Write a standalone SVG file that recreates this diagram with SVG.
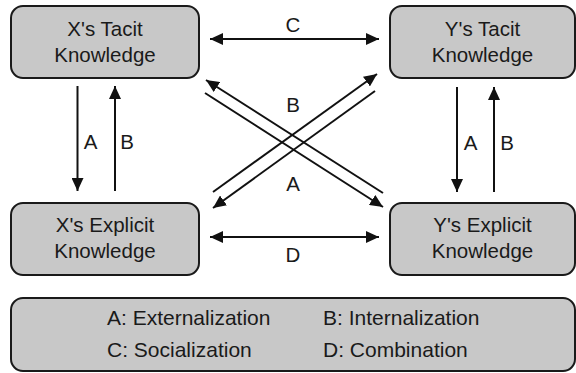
<svg xmlns="http://www.w3.org/2000/svg" width="576" height="373" viewBox="0 0 576 373">
<defs>
<marker id="ah" markerUnits="userSpaceOnUse" markerWidth="14" markerHeight="12" refX="13" refY="6" orient="auto-start-reverse">
<path d="M0,0 L13,6 L0,12 z" fill="#111"/>
</marker>
<style>
.box{fill:#c8c8c8;stroke:#1a1a1a;stroke-width:2}
.t{font-family:"Liberation Sans",Arial,sans-serif;font-size:20.5px;fill:#1a1a1a;text-anchor:middle}
.lg{font-family:"Liberation Sans",Arial,sans-serif;font-size:21px;fill:#1a1a1a}
.c{stroke:#111;stroke-width:2;fill:none}
.one{marker-end:url(#ah)}
.two{marker-start:url(#ah);marker-end:url(#ah)}
</style>
</defs>
<rect width="576" height="373" fill="#fff"/>
<g id="x-tacit">
<rect class="box" x="11" y="6" width="188" height="72" rx="12"/>
<text class="t" x="105" y="36">X's Tacit</text>
<text class="t" x="105" y="62">Knowledge</text>
</g>
<g id="y-tacit">
<rect class="box" x="390" y="6" width="185" height="72" rx="12"/>
<text class="t" x="482.5" y="36">Y's Tacit</text>
<text class="t" x="482.5" y="62">Knowledge</text>
</g>
<g id="x-explicit">
<rect class="box" x="11" y="203" width="188" height="72" rx="12"/>
<text class="t" x="105" y="232">X's Explicit</text>
<text class="t" x="105" y="258">Knowledge</text>
</g>
<g id="y-explicit">
<rect class="box" x="390" y="203" width="185" height="72" rx="12"/>
<text class="t" x="482.5" y="232">Y's Explicit</text>
<text class="t" x="482.5" y="258">Knowledge</text>
</g>
<g id="legend">
<rect class="box" x="11" y="298" width="564" height="73" rx="12"/>
<text class="lg" x="107" y="325">A: Externalization</text>
<text class="lg" x="323" y="325">B: Internalization</text>
<text class="lg" x="107" y="357">C: Socialization</text>
<text class="lg" x="323" y="357">D: Combination</text>
</g>
<g id="connectors">
<line class="c two" x1="210" y1="39" x2="379" y2="39"/>
<line class="c two" x1="210" y1="237" x2="379" y2="237"/>
<line class="c one" x1="77.5" y1="86" x2="77.5" y2="191"/>
<line class="c one" x1="115" y1="191" x2="115" y2="86"/>
<line class="c one" x1="457" y1="87" x2="457" y2="192"/>
<line class="c one" x1="494" y1="192" x2="494" y2="87"/>
<line class="c one" x1="383" y1="193" x2="206" y2="80"/>
<line class="c one" x1="205" y1="93" x2="383" y2="207"/>
<line class="c one" x1="213" y1="192" x2="377" y2="74"/>
<line class="c one" x1="375" y1="91" x2="213" y2="208"/>
<text class="t" x="293" y="32">C</text>
<text class="t" x="293" y="262">D</text>
<text class="t" x="293" y="112">B</text>
<text class="t" x="293" y="191">A</text>
<text class="t" x="90.5" y="149">A</text>
<text class="t" x="127" y="149">B</text>
<text class="t" x="470.5" y="150">A</text>
<text class="t" x="507" y="150">B</text>
</g>
</svg>
